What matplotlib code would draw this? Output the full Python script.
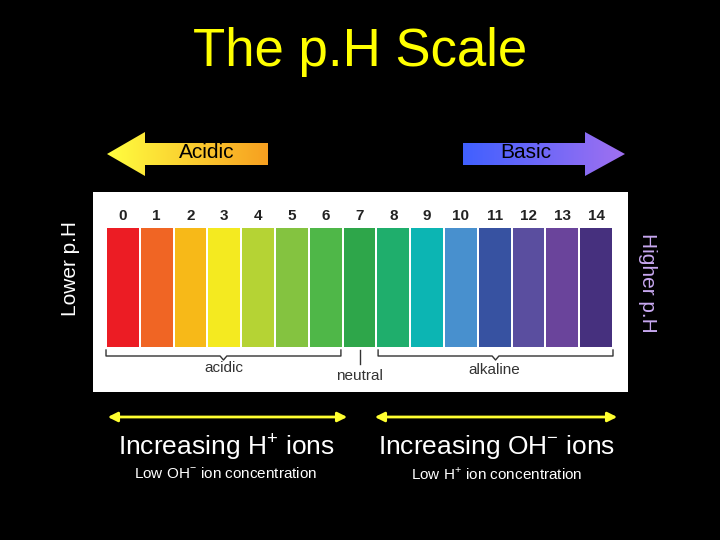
import matplotlib
matplotlib.use("Agg")
import matplotlib.pyplot as plt
import numpy as np
from matplotlib.patches import Polygon
from matplotlib.colors import LinearSegmentedColormap

plt.rcParams['font.family'] = ['Liberation Sans', 'DejaVu Sans']
plt.rcParams['mathtext.fontset'] = 'custom'
plt.rcParams['mathtext.rm'] = 'Liberation Sans'

ph_values = list(range(15))
ph_colors = ['#ec1c24', '#f06524', '#f7b918', '#f4ea20', '#b5d334', '#84c340', '#4fb748',
             '#2ea64a', '#1fae6c', '#0cb5b3', '#4890ce', '#3752a1', '#5a4e9f', '#6a449b', '#46307e']
ph_labels = [str(v) for v in ph_values]

fig = plt.figure(figsize=(7.2, 5.4), dpi=100, facecolor='black')
ax = fig.add_axes([0, 0, 1, 1])
ax.set_xlim(0, 720); ax.set_ylim(540, 0); ax.axis('off')
ax.set_facecolor('black')

ax.text(360, 52, 'The p.H Scale', color='#ffff00', fontsize=38, ha='center', va='center')

def grad_arrow(pts, c1, c2, x0, x1, y0, y1):
    poly = Polygon(pts, closed=True, facecolor='none', edgecolor='none')
    ax.add_patch(poly)
    cmap = LinearSegmentedColormap.from_list('g', [c1, c2])
    im = ax.imshow(np.linspace(0, 1, 256)[None, :], cmap=cmap, extent=(x0, x1, y1, y0),
                   aspect='auto', zorder=2)
    im.set_clip_path(poly)

# Acidic arrow (points left)
grad_arrow([(107, 154), (145, 132), (145, 143), (268, 143), (268, 165), (145, 165), (145, 176)],
           '#ffff40', '#f7a020', 107, 268, 132, 176)
ax.text(207, 153, 'Acidic', color='black', fontsize=15, ha='center', va='center', zorder=3)
# Basic arrow (points right)
grad_arrow([(463, 143), (585, 143), (585, 132), (625, 154), (585, 176), (585, 165), (463, 165)],
           '#4060ff', '#a070f0', 463, 625, 132, 176)
ax.text(526, 153, 'Basic', color='black', fontsize=15, ha='center', va='center', zorder=3)

ax.text(70, 268, 'Lower p.H', color='white', fontsize=15, rotation=90, ha='center', va='center')
ax.text(648, 283, 'Higher p.H', color='#c8a8f0', fontsize=15, rotation=-90, ha='center', va='center')

# pH strip
s = fig.add_axes([93/720, 1 - 392/540, 535/720, 200/540])
s.set_facecolor('white')
s.set_xlim(-0.885, 14.944); s.set_ylim(392, 192)
s.set_xticks([]); s.set_yticks([])
for sp in s.spines.values(): sp.set_visible(False)
s.bar(ph_values, 119, bottom=228, width=0.94, color=ph_colors)
for v, lab in zip(ph_values, ph_labels):
    s.text(v, 216, lab, ha='center', va='center', fontsize=11, fontweight='bold', color='#222222')

def bracket(a, b, y=350, h=6):
    m = (a + b) / 2
    s.plot([a, a, m - 0.1, m, m + 0.1, b, b], [y, y + h, y + h, y + h + 4, y + h, y + h, y],
           color='#333333', lw=1)
bracket(-0.5, 6.45)
bracket(7.55, 14.5)
s.plot([7, 7], [350, 364], color='#333333', lw=1)
s.text(3, 368, 'acidic', ha='center', va='center', fontsize=11, color='#333333')
s.text(7, 376, 'neutral', ha='center', va='center', fontsize=11, color='#333333')
s.text(11, 370, 'alkaline', ha='center', va='center', fontsize=11, color='#333333')

# double arrows
for x0, x1 in [(105, 350), (372, 620)]:
    ax.annotate('', xy=(x0, 417), xytext=(x1, 417),
                arrowprops=dict(arrowstyle='<|-|>', color='#ffff30', lw=2, mutation_scale=14))

ax.text(226, 447, r'Increasing H$^{+}$ ions', color='white', fontsize=19, ha='center', va='center')
ax.text(497, 447, r'Increasing OH$^{-}$ ions', color='white', fontsize=19, ha='center', va='center')
ax.text(226, 474, r'Low OH$^{-}$ ion concentration', color='white', fontsize=11, ha='center', va='center')
ax.text(497, 474, r'Low H$^{+}$ ion concentration', color='white', fontsize=11, ha='center', va='center')

fig.savefig('out.png', dpi=100, facecolor='black')
